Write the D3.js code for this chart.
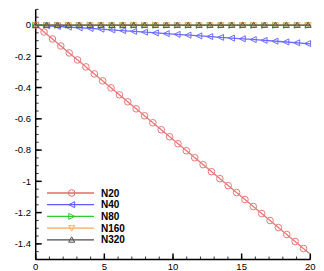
<!DOCTYPE html>
<html>
<head>
<meta charset="utf-8">
<script src="https://cdn.jsdelivr.net/npm/d3@7"></script>
<style>
  body { margin: 0; background: #fff; }
  svg { display: block; font-family: "Liberation Sans", Arial, sans-serif; }
</style>
</head>
<body>
<svg id="chart"></svg>
<script>
const width = 324, height = 271;

// series values (x, y)
const seriesNames = ["N20", "N40", "N80", "N160", "N320"];
const n20X = [0, 5, 10, 15, 20];
const n20Y = [0, -0.366, -0.733, -1.099, -1.466];
const n40X = [0, 2, 4, 6, 8, 10, 12, 14, 16, 18, 20];
const n40Y = [0, -0.011, -0.022, -0.034, -0.046, -0.058, -0.07, -0.082, -0.094, -0.107, -0.12];
const n80X = [0, 20];
const n80Y = [-0.001, -0.002];
const n160X = [0, 20];
const n160Y = [0, 0];
const n320X = [0, 20];
const n320Y = [0, 0];

const xTicks = [0, 5, 10, 15, 20];
const yTicks = [0, -0.2, -0.4, -0.6, -0.8, -1, -1.2, -1.4];

const colors = ["#e86a6a", "#5c5cff", "#2ecc2e", "#ffa855", "#4d4d4d"];
const shapes = ["circle", "left", "right", "down", "up"];

const series = [
  d3.zip(n20X, n20Y), d3.zip(n40X, n40Y), d3.zip(n80X, n80Y),
  d3.zip(n160X, n160Y), d3.zip(n320X, n320Y)
];

const x = d3.scaleLinear().domain([0, 20]).range([35.7, 310.3]);
const y = d3.scaleLinear().domain([-1.5, 0.1]).range([259.5, 9.4]);

const svg = d3.select("#chart").attr("width", width).attr("height", height);

// marker paths
const markerPath = function(shape, s) {
  if (shape === "circle") return null;
  if (shape === "left") return `M${-s},0L${s},${-s}L${s},${s}Z`;
  if (shape === "right") return `M${s},0L${-s},${-s}L${-s},${s}Z`;
  if (shape === "down") return `M0,${s}L${-s},${-s * 0.8}L${s},${-s * 0.8}Z`;
  return `M0,${-s}L${-s},${s * 0.8}L${s},${s * 0.8}Z`;
};

const drawMarker = function(g, shape, color, cx, cy) {
  if (shape === "circle") {
    g.append("circle")
      .attr("cx", cx).attr("cy", cy).attr("r", 3.3)
      .attr("fill", "none").attr("stroke", color).attr("stroke-width", 1);
  } else {
    g.append("path")
      .attr("transform", `translate(${cx},${cy})`)
      .attr("d", markerPath(shape, 3))
      .attr("fill", "none").attr("stroke", color).attr("stroke-width", 1);
  }
};

// axes
const axisG = svg.append("g");
axisG.append("line")
  .attr("x1", x(0)).attr("x2", x(0)).attr("y1", y(0.1)).attr("y2", y(-1.5))
  .attr("stroke", "#000").attr("stroke-width", 1.5);
axisG.append("line")
  .attr("x1", x(0)).attr("x2", x(20)).attr("y1", y(-1.5)).attr("y2", y(-1.5))
  .attr("stroke", "#000").attr("stroke-width", 1.5);

// y minor ticks every 0.05
d3.range(0, 33).map(i => 0.1 - i * 0.05).forEach(v => {
  axisG.append("line")
    .attr("x1", x(0)).attr("x2", x(0) + 3)
    .attr("y1", y(v)).attr("y2", y(v))
    .attr("stroke", "#000").attr("stroke-width", 0.8);
});
yTicks.forEach(v => {
  axisG.append("line")
    .attr("x1", x(0)).attr("x2", x(0) + 6)
    .attr("y1", y(v)).attr("y2", y(v))
    .attr("stroke", "#000").attr("stroke-width", 1.5);
  axisG.append("text")
    .attr("x", 31).attr("y", y(v))
    .attr("dy", "0.35em")
    .attr("text-anchor", "end")
    .style("font-size", "9.5px")
    .text(v === 0 ? "0" : d3.format("")(v).replace("−", "-"));
});

// x minor ticks every 1
d3.range(0, 21).forEach(v => {
  axisG.append("line")
    .attr("x1", x(v)).attr("x2", x(v))
    .attr("y1", y(-1.5)).attr("y2", y(-1.5) - 3)
    .attr("stroke", "#000").attr("stroke-width", 0.8);
});
xTicks.forEach(v => {
  axisG.append("line")
    .attr("x1", x(v)).attr("x2", x(v))
    .attr("y1", y(-1.5)).attr("y2", y(-1.5) - 6)
    .attr("stroke", "#000").attr("stroke-width", 1.5);
  axisG.append("text")
    .attr("x", x(v)).attr("y", 270)
    .attr("text-anchor", "middle")
    .style("font-size", "9.5px")
    .text(v);
});

// lines, with markers spaced evenly along each curve
const line = d3.line().x(d => x(d[0])).y(d => y(d[1]));
const spacing = 10.9;

series.forEach((data, i) => {
  const g = svg.append("g").attr("opacity", 0.9);
  const path = g.append("path")
    .attr("d", line(data))
    .attr("fill", "none")
    .attr("stroke", colors[i])
    .attr("stroke-width", 1.3);
  const node = path.node();
  const total = node.getTotalLength();
  for (let l = 0; l <= total; l += spacing) {
    const p = node.getPointAtLength(l);
    drawMarker(g, shapes[i], colors[i], p.x, p.y);
  }
});

// legend
const legend = svg.append("g");
seriesNames.forEach((name, i) => {
  const ly = 193 + i * 11.7;
  legend.append("line")
    .attr("x1", 47).attr("x2", 94).attr("y1", ly).attr("y2", ly)
    .attr("stroke", colors[i]).attr("stroke-width", 1.3);
  drawMarker(legend, shapes[i], colors[i], 71.7, ly);
  legend.append("text")
    .attr("x", 101).attr("y", ly)
    .attr("dy", "0.36em")
    .style("font-size", "10px")
    .style("font-weight", "bold")
    .text(name);
});
</script>
</body>
</html>
